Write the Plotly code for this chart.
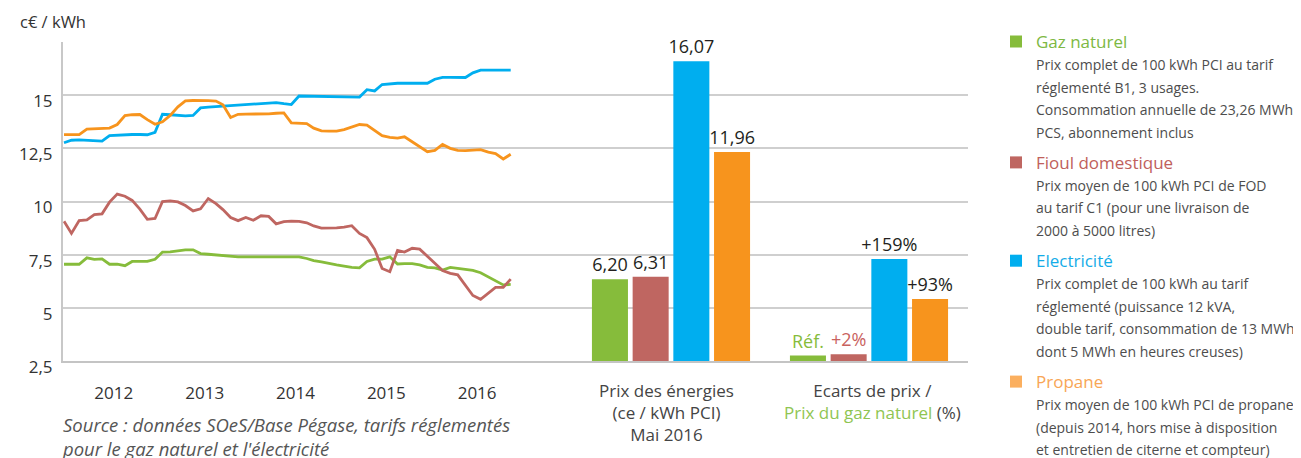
import pandas as pd
import plotly.graph_objects as go

# ---------------- data ----------------
months = pd.date_range("2011-06-01", "2016-05-01", freq="MS") + pd.Timedelta(days=14)

gaz_naturel = [7.05, 7.05, 7.05, 7.35, 7.28, 7.30, 7.05, 7.05, 6.98, 7.18, 7.18, 7.18, 7.28, 7.62, 7.63, 7.68,
               7.73, 7.73, 7.55, 7.52, 7.48, 7.45, 7.42, 7.40, 7.40, 7.40, 7.40, 7.41, 7.43, 7.43,
               7.42, 7.40, 7.32, 7.22, 7.16, 7.08, 7.02, 6.96, 6.90, 6.88, 7.18, 7.29, 7.29, 7.40, 7.06,
               7.08, 7.08, 7.02, 6.90, 6.88, 6.78, 6.90, 6.86, 6.80, 6.76, 6.65, 6.45, 6.25, 6.08, 6.10]

fioul = [9.07, 8.50, 9.10, 9.14, 9.38, 9.42, 9.97, 10.35, 10.25, 10.05, 9.64, 9.16, 9.20, 10.00, 10.03, 9.98,
         9.81, 9.56, 9.66, 10.14, 9.90, 9.62, 9.25, 9.10, 9.25, 9.12, 9.33, 9.30, 8.95, 9.05,
         9.08, 9.07, 9.00, 8.85, 8.75, 8.75, 8.76, 8.80, 8.86, 8.50, 8.30, 7.75, 6.85, 6.70, 7.70,
         7.62, 7.80, 7.76, 7.40, 7.10, 6.75, 6.62, 6.55, 6.05, 5.58, 5.40, 5.70, 5.96, 5.96, 6.35]

electricite = [12.76, 12.88, 12.90, 12.87, 12.85, 12.84, 13.10, 13.12, 13.15, 13.15, 13.15, 13.14, 13.25, 14.10, 14.08, 14.05,
               14.03, 14.05, 14.40, 14.44, 14.46, 14.48, 14.50, 14.52, 14.54, 14.56, 14.58, 14.62, 14.65, 14.60,
               14.56, 14.96, 14.95, 14.94, 14.93, 14.93, 14.92, 14.92, 14.91, 14.91, 15.26, 15.20, 15.50, 15.54, 15.56,
               15.56, 15.56, 15.56, 15.56, 15.75, 15.84, 15.84, 15.84, 15.83, 16.05, 16.18, 16.18, 16.18, 16.18, 16.18]

propane = [13.14, 13.14, 13.14, 13.40, 13.42, 13.44, 13.45, 13.62, 14.04, 14.08, 14.09, 13.85, 13.63, 13.75, 14.05, 14.45,
           14.73, 14.75, 14.76, 14.74, 14.72, 14.55, 13.95, 14.10, 14.11, 14.11, 14.11, 14.12, 14.15, 14.17,
           13.70, 13.67, 13.66, 13.45, 13.32, 13.31, 13.31, 13.38, 13.50, 13.62, 13.59, 13.35, 13.10, 13.02, 12.98,
           13.04, 12.80, 12.55, 12.34, 12.40, 12.68, 12.50, 12.40, 12.39, 12.40, 12.44, 12.32, 12.25, 12.00, 12.22]

energies = ["Gaz naturel", "Fioul domestique", "Electricité", "Propane"]
prix_mai_2016 = [6.20, 6.31, 16.07, 11.96]
ecarts_pct = [0, 2, 159, 93]

y_tickvals = [2.5, 5, 7.5, 10, 12.5, 15, 17.5]
y_ticktext = ["2,5", "5", "7,5", "10", "12,5", "15", ""]
year_ticks = ["2012-01-01", "2013-01-01", "2014-01-01", "2015-01-01", "2016-01-01"]
year_labels = ["2012", "2013", "2014", "2015", "2016"]

legend_desc = [
    ["Prix complet de 100 kWh PCI au tarif", "réglementé B1, 3 usages.",
     "Consommation annuelle de 23,26 MWh", "PCS, abonnement inclus"],
    ["Prix moyen de 100 kWh PCI de FOD", "au tarif C1 (pour une livraison de",
     "2000 à 5000 litres)"],
    ["Prix complet de 100 kWh au tarif", "réglementé (puissance 12 kVA,",
     "double tarif, consommation de 13 MWh", "dont 5 MWh en heures creuses)"],
    ["Prix moyen de 100 kWh PCI de propane", "(depuis 2014, hors mise à disposition",
     "et entretien de citerne et compteur)"],
]

# ---------------- style ----------------
FONT = "Open Sans, Noto Sans, sans-serif"
C_GREEN, C_RED, C_BLUE, C_ORANGE = "#86BC3B", "#BF6661", "#00AEEF", "#F7941D"
bar_colors = [C_GREEN, C_RED, C_BLUE, C_ORANGE]
legend_colors = [C_GREEN, C_RED, C_BLUE, "#FBAF5F"]
title_colors = ["#7DB843", "#C0605B", "#14ACE8", "#F8A656"]
GRID = "#CFCFCF"

PAGE_W, PAGE_H, OFF = 1301, 458, 8          # page body margin offset
W_FIG, H_FIG = PAGE_W - OFF, PAGE_H - OFF
L, R, T, B = 63, 968, 42, 361              # plot area in page pixels
PW, PH = R - L, B - T


def px_x(px):
    return (px - L) / PW


def px_y(py):
    return (B - py) / PH


# x range for dates: first point at px 64, last at px 510.7
dpp = (months[-1] - months[0]) / (510.7 - 64)
x_left = months[0] - dpp * 1
x_right = months[0] + dpp * (R - 64)

fig = go.Figure()

for vals, col in [(gaz_naturel, C_GREEN), (fioul, C_RED), (electricite, C_BLUE), (propane, C_ORANGE)]:
    fig.add_trace(go.Scatter(x=months, y=vals, mode="lines", line=dict(color=col, width=2.8),
                             xaxis="x", yaxis="y", showlegend=False, hoverinfo="skip"))

Y2_FLOOR = 2.5
fig.add_trace(go.Bar(
    x=energies, y=[v - Y2_FLOOR for v in prix_mai_2016], base=Y2_FLOOR,
    marker=dict(color=bar_colors, line=dict(width=0)),
    text=[f"{v:.2f}".replace(".", ",") for v in prix_mai_2016],
    textposition="outside", constraintext="none",
    textfont=dict(size=18, color="#231F20", family=FONT),
    cliponaxis=False, xaxis="x2", yaxis="y2", showlegend=False, hoverinfo="skip"))

Y3_FLOOR = -9
fig.add_trace(go.Bar(
    x=energies, y=[v - Y3_FLOOR for v in ecarts_pct], base=Y3_FLOOR,
    marker=dict(color=bar_colors, line=dict(width=0)),
    text=["Réf." if v == 0 else f"+{v}%" for v in ecarts_pct],
    textposition="outside", constraintext="none",
    textfont=dict(size=18, color=[C_GREEN, "#C9625E", "#231F20", "#231F20"], family=FONT),
    cliponaxis=False, xaxis="x3", yaxis="y3", showlegend=False, hoverinfo="skip"))

annotations = []
annotations.append(dict(text="c€ / kWh", x=px_x(18), y=px_y(22), xref="paper", yref="paper",
                        xanchor="left", yanchor="middle", showarrow=False,
                        font=dict(size=16.5, color="#333333", family=FONT)))
annotations.append(dict(text="<i>Source : données SOeS/Base Pégase, tarifs réglementés<br>pour le gaz naturel et l'électricité</i>",
                        x=px_x(60), y=px_y(410), xref="paper", yref="paper", align="left",
                        xanchor="left", yanchor="top", showarrow=False,
                        font=dict(size=18.5, color="#555555", family=FONT)))
annotations.append(dict(text="Prix des énergies<br>(ce / kWh PCI)<br>Mai 2016",
                        x=px_x(666), y=px_y(377), xref="paper", yref="paper", align="center",
                        xanchor="center", yanchor="top", showarrow=False,
                        font=dict(size=17, color="#444444", family=FONT)))
annotations.append(dict(text="Ecarts de prix /<br><span style='color:#8FC552'>Prix du gaz naturel</span> (%)",
                        x=px_x(872), y=px_y(377), xref="paper", yref="paper", align="center",
                        xanchor="center", yanchor="top", showarrow=False,
                        font=dict(size=17, color="#444444", family=FONT)))

shapes = []
y = 41.5
for name, desc, lcol, tcol in zip(energies, legend_desc, legend_colors, title_colors):
    shapes.append(dict(type="rect", xref="paper", yref="paper",
                       x0=px_x(1010), x1=px_x(1022), y0=px_y(y - 6), y1=px_y(y + 6),
                       fillcolor=lcol, line=dict(width=0)))
    annotations.append(dict(text=name, x=px_x(1034), y=px_y(y), xref="paper", yref="paper",
                            xanchor="left", yanchor="middle", showarrow=False,
                            font=dict(size=17, color=tcol, family=FONT)))
    y += 23
    for line in desc:
        annotations.append(dict(text=line, x=px_x(1034), y=px_y(y), xref="paper", yref="paper",
                                xanchor="left", yanchor="middle", showarrow=False,
                                font=dict(size=14, color="#4D4D4D", family=FONT)))
        y += 22.6
    y += 7.5

bar_band = 40.7
x2_center, x3_center = 671, 869
fig.update_layout(
    width=W_FIG, height=H_FIG,
    margin=dict(l=L - OFF, r=W_FIG - (R - OFF), t=T - OFF, b=H_FIG - (B - OFF), pad=0),
    paper_bgcolor="white", plot_bgcolor="rgba(0,0,0,0)",
    font=dict(family=FONT, color="#333333"),
    bargap=0.115,
    xaxis=dict(type="date", range=[x_left, x_right], domain=[0, 1],
               tickvals=year_ticks, ticktext=year_labels, ticks="",
               ticklabelstandoff=16, tickfont=dict(size=17, color="#333333"),
               showgrid=False, showline=True, linecolor="#C4C4C4", linewidth=2,
               zeroline=False, anchor="y"),
    yaxis=dict(range=[2.5, 17.5], domain=[0, 1], tickvals=y_tickvals, ticktext=y_ticktext,
               ticks="", ticklabelstandoff=5, ticklabelshift=6,
               tickfont=dict(size=17, color="#333333"),
               showgrid=True, gridcolor=GRID, gridwidth=2, showline=True,
               linecolor="#C8C8C8", linewidth=2, zeroline=False, anchor="x"),
    xaxis2=dict(domain=[px_x(x2_center - 2 * bar_band), px_x(x2_center + 2 * bar_band)],
                anchor="y2", showticklabels=False, showgrid=False, showline=False,
                zeroline=False, ticks="", categoryorder="array", categoryarray=energies),
    yaxis2=dict(range=[Y2_FLOOR, Y2_FLOOR + PH / 22.09], domain=[0, 1], anchor="x2",
                visible=False, showgrid=False, zeroline=False),
    xaxis3=dict(domain=[px_x(x3_center - 2 * bar_band), px_x(x3_center + 2 * bar_band)],
                anchor="y3", showticklabels=False, showgrid=False, showline=False,
                zeroline=False, ticks="", categoryorder="array", categoryarray=energies),
    yaxis3=dict(range=[Y3_FLOOR, Y3_FLOOR + PH / 0.607], domain=[0, 1], anchor="x3",
                visible=False, showgrid=False, zeroline=False),
    annotations=annotations,
    shapes=shapes,
)

fig.write_html("out.html")
